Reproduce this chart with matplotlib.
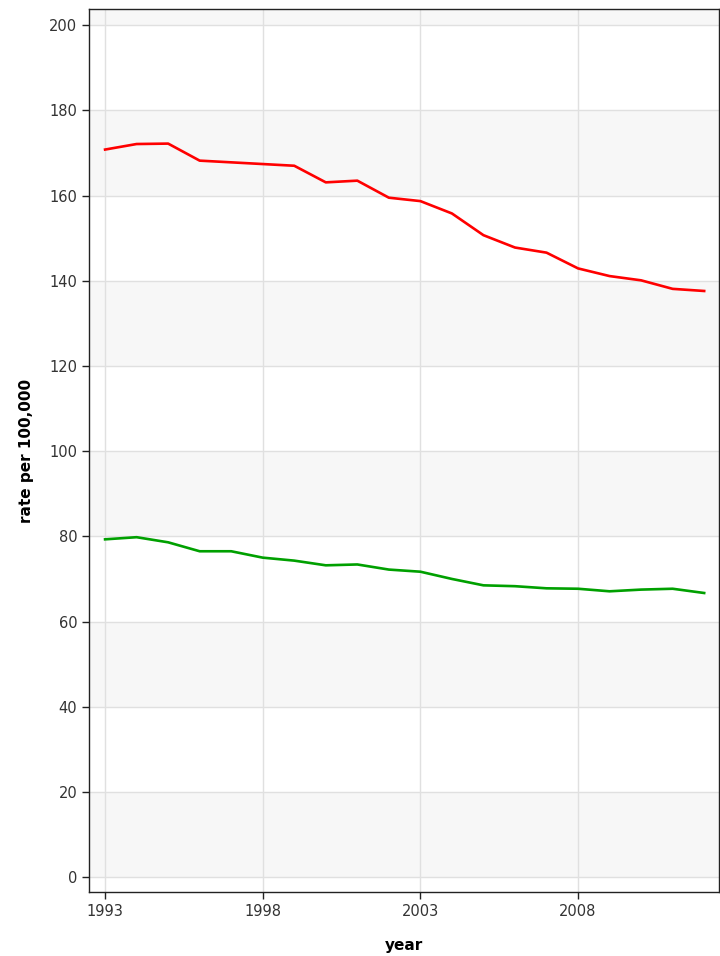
import numpy as np
import matplotlib
matplotlib.use("Agg")
import matplotlib.pyplot as plt

years = list(range(1993, 2013))
red_rate = [170.8, 172.1, 172.2, 168.2, 167.8, 167.4, 167.0, 163.1, 163.5, 159.5,
            158.7, 155.8, 150.7, 147.8, 146.6, 142.9, 141.1, 140.1, 138.1, 137.6]
green_rate = [79.3, 79.8, 78.6, 76.5, 76.5, 75.0, 74.3, 73.2, 73.4, 72.2,
              71.7, 70.0, 68.5, 68.3, 67.8, 67.7, 67.1, 67.5, 67.7, 66.7]
y_ticks = [0, 20, 40, 60, 80, 100, 120, 140, 160, 180, 200]
x_ticks = [1993, 1998, 2003, 2008]

fig = plt.figure(figsize=(7.2, 9.56), dpi=100)
ax = fig.add_axes([0.1236, 0.0669, 0.8750, 0.9237])

ax.set_xlim(1992.49, 2012.47)
ax.set_ylim(-3.5, 203.8)

# alternating background bands
for lo in range(0, 220, 40):
    ax.axhspan(lo, lo + 20, color="#f7f7f7", zorder=0, lw=0)

ax.grid(True, color="#e0e0e0", linewidth=1.0, zorder=1)
ax.set_axisbelow(True)

ax.plot(years, red_rate, color="#ff0000", linewidth=1.9, zorder=3)
ax.plot(years, green_rate, color="#00a000", linewidth=1.9, zorder=3)

ax.set_xticks(x_ticks)
ax.set_yticks(y_ticks)
ax.tick_params(axis="both", direction="out", length=5, width=1, color="#222222",
               labelsize=10.5, labelcolor="#333333")
for s in ax.spines.values():
    s.set_color("#222222")
    s.set_linewidth(1.0)

ax.set_xlabel("year", fontsize=11, fontweight="bold", labelpad=14)
ax.set_ylabel("rate per 100,000", fontsize=11, fontweight="bold", labelpad=11)

fig.savefig("out.png", dpi=100)
